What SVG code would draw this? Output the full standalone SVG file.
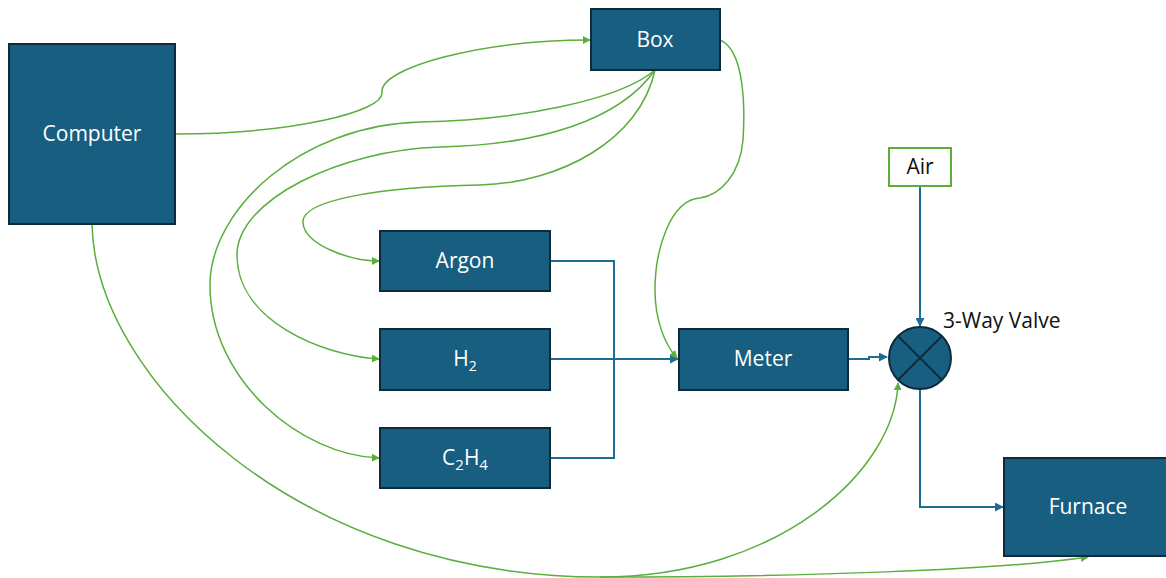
<svg xmlns="http://www.w3.org/2000/svg" width="1166" height="578" viewBox="0 0 1166 578">
  <style>
    .node { fill: #175e80; stroke: #0e2b3c; stroke-width: 2; }
    .lbl { fill: #ffffff; font-family: "Open Sans", "Liberation Sans", Arial, sans-serif; font-size: 21px; text-anchor: middle; }
    .dark { fill: #111111; font-family: "Open Sans", "Liberation Sans", Arial, sans-serif; font-size: 21px; }
    .ctl { fill: none; stroke: #5aae3c; stroke-width: 1.5; }
    .flow { fill: none; stroke: #1f6b93; stroke-width: 2; }
  </style>
  <defs>
    <marker id="ga" viewBox="0 0 10 10" refX="9" refY="5" markerWidth="8" markerHeight="8" markerUnits="userSpaceOnUse" orient="auto">
      <path d="M0,0 L10,5 L0,10 z" fill="#5aae3c"/>
    </marker>
    <marker id="ba" viewBox="0 0 10 10" refX="9" refY="5" markerWidth="9" markerHeight="9" markerUnits="userSpaceOnUse" orient="auto">
      <path d="M0,0 L10,5 L0,10 z" fill="#1f6b93"/>
    </marker>
  </defs>

  <!-- connectors -->
  <g id="connectors">
    <!-- gas flow lines -->
    <path class="flow" d="M550,261 H614 V458 H550"/>
    <path class="flow" d="M550,359 H678" marker-end="url(#ba)"/>
    <path class="flow" d="M848,359 H869 V357 H887" marker-end="url(#ba)"/>
    <path class="flow" d="M920,186 V326" marker-end="url(#ba)"/>
    <path class="flow" d="M920,390 V507 H1003" marker-end="url(#ba)"/>

    <!-- control lines -->
    <path class="ctl" d="M175,134 C290,134 385,112 382,92 C380,68 480,40 590,40" marker-end="url(#ga)"/>
    <path class="ctl" d="M655,70 C640,140 560,183 480,185 C380,187 300,200 303,223 C305,245 350,261 379,261" marker-end="url(#ga)"/>
    <path class="ctl" d="M655,70 C620,120 540,145 440,147 C340,150 237,200 237,255 C237,320 320,355 379,359" marker-end="url(#ga)"/>
    <path class="ctl" d="M655,70 C620,100 520,120 420,122 C300,125 210,210 210,285 C210,380 300,455 379,458" marker-end="url(#ga)"/>
    <path class="ctl" d="M720,40 C745,50 745,110 743,140 C740,175 720,195 700,198 C670,200 655,250 655,290 C655,320 665,345 677,358" marker-end="url(#ga)"/>
    <path class="ctl" d="M92,224 C95,380 300,577 600,577 C800,577 1000,570 1088,557" marker-end="url(#ga)"/>
    <path class="ctl" d="M600,577 C780,577 895,470 898,383" marker-end="url(#ga)"/>
  </g>

  <g id="computer">
    <rect class="node" x="9" y="44" width="166" height="180"/>
    <text class="lbl" x="92" y="141">Computer</text>
  </g>
  <g id="box">
    <rect class="node" x="591" y="9" width="129" height="61"/>
    <text class="lbl" x="655" y="47">Box</text>
  </g>
  <g id="argon">
    <rect class="node" x="380" y="231" width="170" height="60"/>
    <text class="lbl" x="465" y="268">Argon</text>
  </g>
  <g id="h2">
    <rect class="node" x="380" y="329" width="170" height="61"/>
    <text class="lbl" x="465" y="366">H<tspan font-size="14" dy="5">2</tspan></text>
  </g>
  <g id="c2h4">
    <rect class="node" x="380" y="428" width="170" height="60"/>
    <text class="lbl" x="465" y="465">C<tspan font-size="15" dy="5">2</tspan><tspan dy="-5">H</tspan><tspan font-size="15" dy="5">4</tspan></text>
  </g>
  <g id="meter">
    <rect class="node" x="679" y="329" width="169" height="61"/>
    <text class="lbl" x="763" y="366">Meter</text>
  </g>
  <g id="valve">
    <circle class="node" cx="920" cy="358" r="31"/>
    <path d="M898,336 L942,380 M942,336 L898,380" stroke="#0e2b3c" stroke-width="2"/>
    <text class="dark" x="943" y="328">3-Way Valve</text>
  </g>
  <g id="air">
    <rect x="889" y="148" width="62" height="38" fill="#ffffff" stroke="#5aae3c" stroke-width="2"/>
    <text class="dark" x="920" y="174" text-anchor="middle">Air</text>
  </g>
  <g id="furnace">
    <rect class="node" x="1004" y="458" width="170" height="98"/>
    <text class="lbl" x="1088" y="514">Furnace</text>
  </g>
</svg>
